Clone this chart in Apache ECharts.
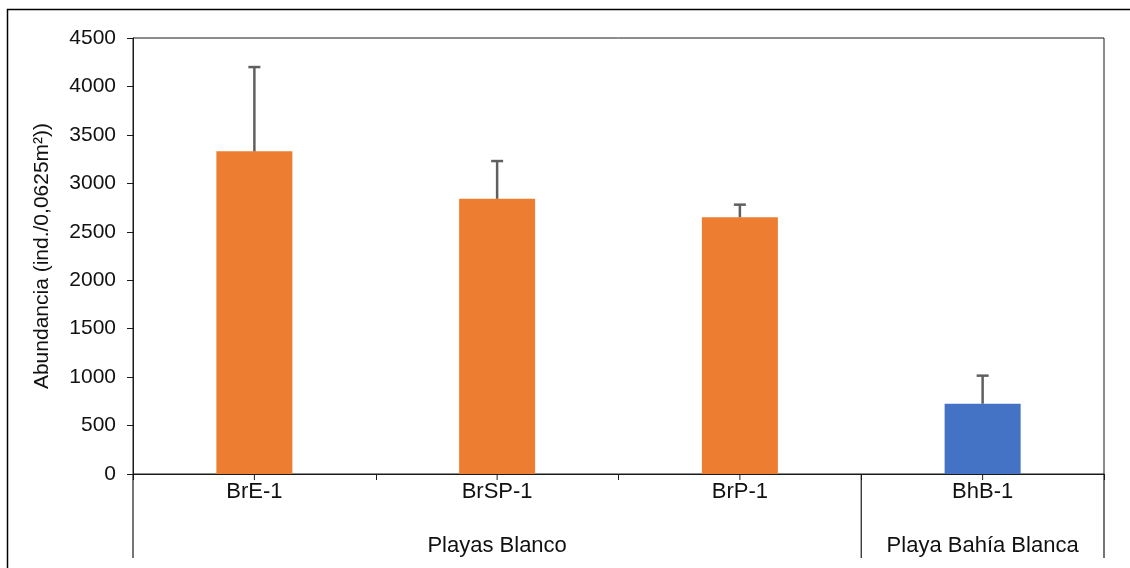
<!DOCTYPE html>
<html>
<head>
<meta charset="utf-8">
<script src="https://cdn.jsdelivr.net/npm/echarts@6/dist/echarts.min.js"></script>
<style>
  html, body { margin: 0; padding: 0; background: #fff; }
  #chart { width: 1130px; height: 568px; }
</style>
</head>
<body>
<div id="chart"></div>
<script>
// Sampling sites and their mean abundance with the upper end of the error bar
const categories = ['BrE-1', 'BrSP-1', 'BrP-1', 'BhB-1'];
const means = [3330, 2840, 2650, 725];
const upper = [4200, 3230, 2780, 1015];

// Site groups: name, first and last site index
const groupNames = ['Playas Blanco', 'Playa Bahía Blanca'];
const groupStart = [0, 3];
const groupEnd = [2, 3];
const groupColors = ['#ED7D31', '#4472C4'];

// Y axis scale
const yMin = 0, yMax = 4500, yStep = 500;

const FONT = '"Liberation Sans", Arial, sans-serif';
const INK = '#1a1a1a';
const TEXT = '#111';

function colorOf(i) {
  for (let g = 0; g < groupNames.length; g++) {
    if (i >= groupStart[g] && i <= groupEnd[g]) return groupColors[g];
  }
  return groupColors[0];
}

const chart = echarts.init(document.getElementById('chart'), null, { renderer: 'canvas' });

chart.setOption({
  backgroundColor: '#fff',
  animation: false,
  grid: {
    left: 133, right: 26, top: 38, bottom: 94,
    show: true, borderColor: INK, borderWidth: 1, backgroundColor: 'transparent'
  },
  graphic: [{
    type: 'rect',
    shape: { x: 7.5, y: 9.5, width: 1300, height: 700 },
    style: { fill: 'none', stroke: '#000', lineWidth: 1.5 },
    silent: true, z: 100
  }],
  xAxis: {
    type: 'category',
    data: categories,
    position: 'bottom',
    axisLine: { show: true, lineStyle: { color: INK, width: 1 } },
    axisTick: { show: true, interval: 0, alignWithLabel: false, length: 6,
                lineStyle: { color: INK, width: 1 } },
    axisLabel: { color: TEXT, fontSize: 22, fontFamily: FONT, margin: 7, interval: 0 },
    splitLine: { show: false }
  },
  yAxis: {
    type: 'value',
    min: yMin, max: yMax, interval: yStep,
    name: 'Abundancia (ind./0,0625m²))',
    nameLocation: 'middle',
    nameGap: 80,
    nameTextStyle: { color: TEXT, fontSize: 21, fontFamily: FONT },
    axisLine: { show: true, lineStyle: { color: INK, width: 1 } },
    axisTick: { show: true, length: 6, lineStyle: { color: INK } },
    axisLabel: { color: TEXT, fontSize: 21, fontFamily: FONT, margin: 17,
                 formatter: function (v) { return String(v); } },
    splitLine: { show: false }
  },
  series: [{
    type: 'bar',
    barWidth: 76,
    data: means.map((v, i) => ({ value: v, itemStyle: { color: colorOf(i) } })),
    z: 2
  }, {
    // error bars: stem from the bar top up to the upper value, with a cap
    type: 'custom',
    clip: false,
    z: 3,
    data: means.map((v, i) => [i, v, upper[i]]),
    renderItem: function (params, api) {
      const top = api.coord([api.value(0), api.value(2)]);
      const base = api.coord([api.value(0), api.value(1)]);
      const style = { stroke: '#5f5f5f', lineWidth: 2.5 };
      return {
        type: 'group',
        children: [
          { type: 'line', shape: { x1: top[0], y1: top[1], x2: base[0], y2: base[1] }, style: style },
          { type: 'line', shape: { x1: top[0] - 6, y1: top[1], x2: top[0] + 6, y2: top[1] }, style: style }
        ]
      };
    }
  }, {
    // group labels, dividers and the small ticks under each site
    type: 'custom',
    clip: false,
    z: 4,
    data: groupNames.map((n, g) => [groupStart[g], groupEnd[g], g]),
    renderItem: function (params, api) {
      const s = api.value(0), e = api.value(1), g = api.value(2);
      const band = api.size([1, 0])[0];
      const p0 = api.coord([s, 0]);
      const p1 = api.coord([e, 0]);
      const left = p0[0] - band / 2;
      const right = p1[0] + band / 2;
      const yBase = p0[1];
      const lineStyle = { stroke: INK, lineWidth: 1.2 };
      const children = [
        { type: 'line', shape: { x1: left, y1: yBase, x2: left, y2: yBase + 84 }, style: lineStyle },
        { type: 'text', x: (left + right) / 2, y: yBase + 72,
          style: { text: groupNames[g], fill: TEXT, font: '22px ' + FONT,
                   textAlign: 'center', textVerticalAlign: 'middle' } }
      ];
      for (let i = s; i <= e; i++) {
        const c = api.coord([i, 0]);
        children.push({ type: 'line', shape: { x1: c[0], y1: yBase, x2: c[0], y2: yBase + 6 },
          style: { stroke: INK, lineWidth: 1 } });
      }
      if (g === groupNames.length - 1) {
        children.push({ type: 'line', shape: { x1: right, y1: yBase, x2: right, y2: yBase + 84 }, style: lineStyle });
      }
      return { type: 'group', children: children };
    }
  }]
});
</script>
</body>
</html>
